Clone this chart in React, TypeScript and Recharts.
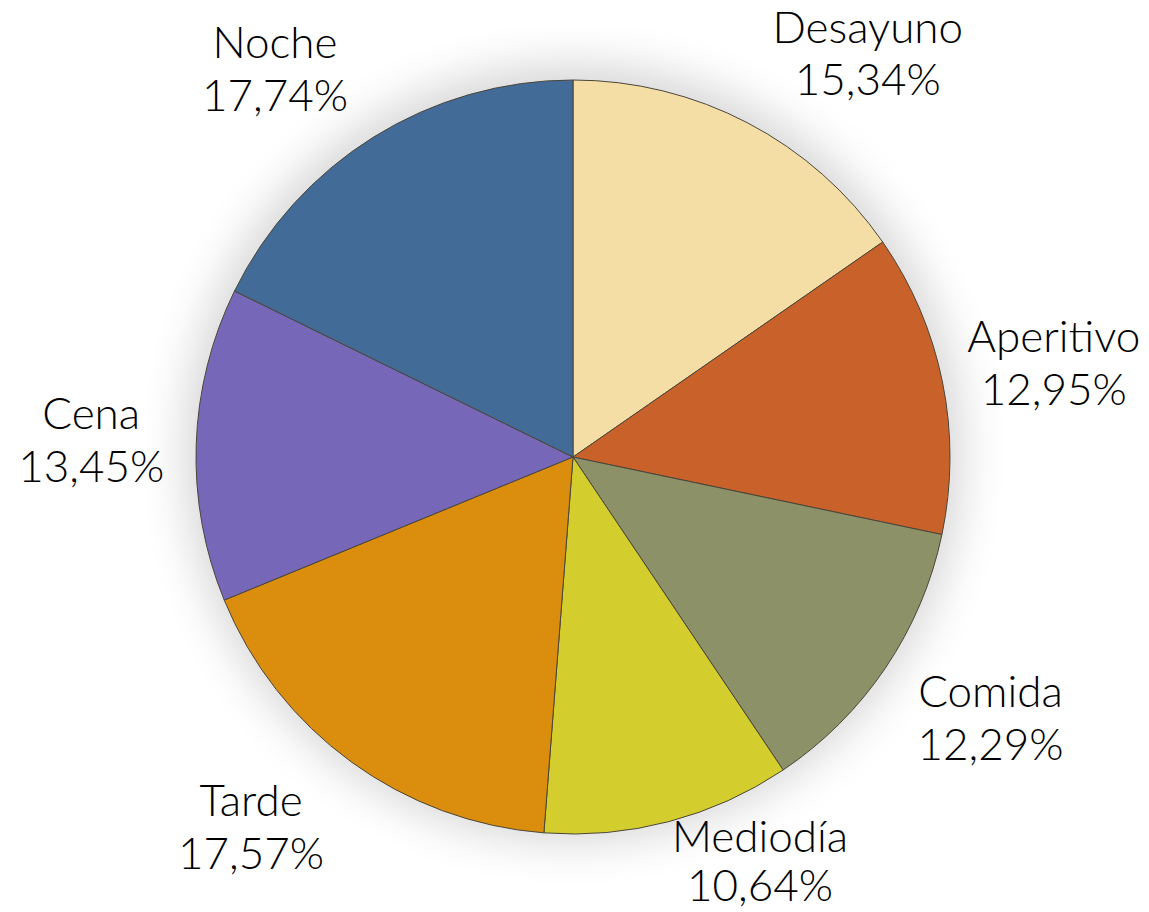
import React from "react";
import { PieChart, Pie, Cell } from "recharts";

const categories = ["Desayuno", "Aperitivo", "Comida", "Mediodía", "Tarde", "Cena", "Noche"];
const shares = [15.34, 12.95, 12.29, 10.64, 17.57, 13.45, 17.74];
const colors = ["#F5DEA6", "#C9622A", "#8C9167", "#D3CD2E", "#DB8E0D", "#7767B9", "#436B98"];

const data = categories.map((name, i) => ({ name, value: shares[i] }));

const RAD = Math.PI / 180;
const W = 1149;
const H = 912;
const CX = 573;
const CY = 457;
const R = 377;
const FONT = "Lato, 'DejaVu Sans', sans-serif";
const FS = 44;

const clamp = (v: number) => Math.max(-1, Math.min(1, v));

let ctx: CanvasRenderingContext2D | null = null;
function textWidth(s: string) {
  if (!ctx && typeof document !== "undefined") {
    ctx = document.createElement("canvas").getContext("2d");
  }
  if (!ctx) return s.length * 21;
  ctx.font = `${FS}px Lato`;
  return ctx.measureText(s).width;
}

// place the label box just outside the rim, pushed away along the mid angle
function renderLabel(props: any) {
  const { cx, cy, outerRadius, midAngle, index } = props;
  const pct = shares[index].toFixed(2).replace(".", ",") + "%";
  const w = Math.max(textWidth(categories[index]), textWidth(pct));
  const h = 106;
  const cos = Math.cos(-midAngle * RAD);
  const sin = Math.sin(-midAngle * RAD);
  const r = outerRadius + 31;
  let x = cx + r * cos + clamp(cos * 2.5) * (w / 2) + Math.sign(cos) * Math.abs(sin) * 10;
  let y = cy + r * sin + clamp(sin * 1.5) * (h / 2 - 12);
  const maxY = H - 52;
  let squeeze = 0;
  if (y > maxY) {
    x += Math.sign(cos) * (y - maxY) * 0.5;
    y = maxY;
    squeeze = 4;
  }
  x = Math.min(x, W - w / 2 - 6);
  return (
    <text x={x} y={y} textAnchor="middle" fill="#000" style={{ fontFamily: FONT, fontSize: FS, fontWeight: 300 }}>
      <tspan x={x} y={y - 12 + squeeze}>{categories[index]}</tspan>
      <tspan x={x} y={y + 41}>{pct}</tspan>
    </text>
  );
}

export default function App() {
  return (
    <div style={{ position: "absolute", left: 0, top: 0, width: W, height: H, background: "#fff", overflow: "hidden" }}>
      <div
        style={{
          position: "absolute",
          left: CX - R,
          top: CY - R,
          width: 2 * R,
          height: 2 * R,
          borderRadius: "50%",
          boxShadow: "0 -4px 45px 12px rgba(0,0,0,0.16)",
        }}
      />
      <div style={{ position: "absolute", left: 0, top: 0 }}>
        <PieChart width={W} height={H} margin={{ top: 0, right: 0, bottom: 0, left: 0 }}>
          <Pie
            data={data}
            dataKey="value"
            nameKey="name"
            cx={CX}
            cy={CY}
            outerRadius={R}
            startAngle={90}
            endAngle={-270}
            stroke="#4a4538"
            strokeWidth={1}
            label={renderLabel}
            labelLine={false}
            isAnimationActive={false}
          >
            {data.map((d, i) => (
              <Cell key={d.name} fill={colors[i]} />
            ))}
          </Pie>
        </PieChart>
      </div>
    </div>
  );
}
